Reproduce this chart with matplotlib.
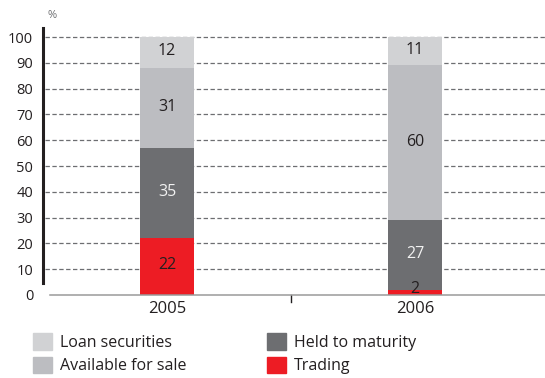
import matplotlib
matplotlib.use("Agg")
import matplotlib.pyplot as plt
from matplotlib.patches import Patch
import numpy as np

years = ["2005", "2006"]
series = ["Trading", "Held to maturity", "Available for sale", "Loan securities"]
trading = [22, 2]
held = [35, 27]
afs = [31, 60]
loan = [12, 11]
yticks = [0, 10, 20, 30, 40, 50, 60, 70, 80, 90, 100]

colors = {"Trading": "#ed1c24", "Held to maturity": "#6d6e71",
          "Available for sale": "#bcbdc1", "Loan securities": "#d1d2d4"}
label_colors = {"Trading": "#231f20", "Held to maturity": "#f2f2f2",
                "Available for sale": "#231f20", "Loan securities": "#231f20"}

plt.rcParams['font.family'] = ['Open Sans', 'DejaVu Sans']

W, H = 545, 378
fig = plt.figure(figsize=(W / 100, H / 100), dpi=100)
ax = fig.add_axes([43 / W, 1 - 295 / H, 1 - 43 / W, (295 - 26.7) / H])

x = np.arange(len(years))
data = {"Trading": trading, "Held to maturity": held,
        "Available for sale": afs, "Loan securities": loan}
bottom = np.zeros(len(years))
for s in series:
    vals = np.array(data[s], dtype=float)
    ax.bar(x, vals, width=0.214, bottom=bottom, color=colors[s], zorder=3)
    for xi, b, v in zip(x, bottom, vals):
        yc = b + v / 2 + 0.5
        if v < 5:
            yc = b + v + 0.3
        ax.text(xi, yc, f"{int(v)}", ha="center", va="center",
                fontsize=11.5, color=label_colors[s], zorder=4)
    bottom += vals

ax.set_xlim(-0.5, 1.524)
ax.set_ylim(0, 104)
ax.set_yticks(yticks)
ax.set_yticklabels([str(t) for t in yticks], fontsize=10.5, color="#231f20")
ax.tick_params(axis="y", length=0, pad=7)
ax.set_xticks(x)
ax.set_xticklabels(years, fontsize=12, color="#231f20")
ax.tick_params(axis="x", length=0, pad=4)

# grid lines
for t in yticks[1:]:
    ax.axhline(t, xmin=0.003, color="#6d6e71", lw=0.9, ls=(0, (3.5, 2)), zorder=1)

for sp in ["top", "right"]:
    ax.spines[sp].set_visible(False)
ax.spines["left"].set_bounds(4.5, 103.5)
ax.spines["left"].set_linewidth(2.2)
ax.spines["left"].set_color("#231f20")
ax.spines["bottom"].set_bounds(-0.472, 1.524)
ax.spines["bottom"].set_color("#9a9a9a")
ax.spines["bottom"].set_linewidth(1.1)
ax.spines["bottom"].set_zorder(5)

# middle tick
ax.plot([0.5, 0.5], [0, -2.6], color="#231f20", lw=1.0, clip_on=False)

fig.text(48 / W, 1 - 16 / H, "%", fontsize=8, color="#6d6e71", ha="left", va="center")

leg_kw = dict(frameon=False, fontsize=11.5, handlelength=1.22, handleheight=1.22,
              handletextpad=0.45, labelspacing=0.38, borderpad=0, borderaxespad=0,
              labelcolor="#231f20")
h1 = [Patch(color=colors["Loan securities"]), Patch(color=colors["Available for sale"])]
fig.legend(h1, ["Loan securities", "Available for sale"], loc="upper left",
           bbox_to_anchor=(33 / W, 1 - 333 / H), **leg_kw)
h2 = [Patch(color=colors["Held to maturity"]), Patch(color=colors["Trading"])]
fig.legend(h2, ["Held to maturity", "Trading"], loc="upper left",
           bbox_to_anchor=(267 / W, 1 - 333 / H), **leg_kw)

fig.savefig("out.png", dpi=100)
